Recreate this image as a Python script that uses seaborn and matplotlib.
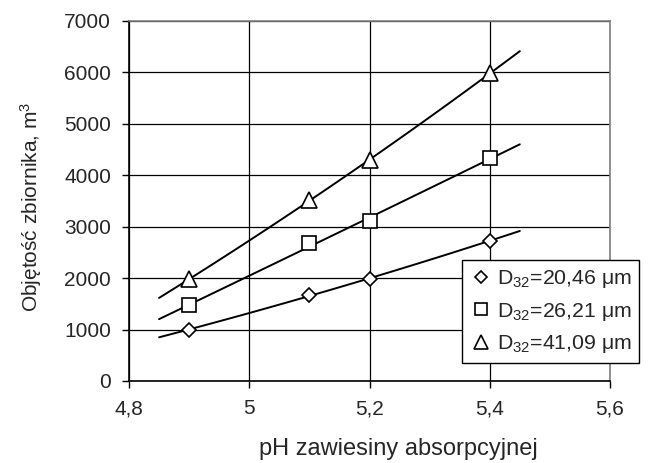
import numpy as np
import pandas as pd
import matplotlib
matplotlib.use("Agg")
import matplotlib.pyplot as plt
import seaborn as sns
from matplotlib.lines import Line2D

sns.set_theme(style="white")
plt.rcParams['font.family'] = ['Liberation Sans', 'DejaVu Sans']
plt.rcParams['mathtext.fontset'] = 'custom'
plt.rcParams['mathtext.rm'] = 'Liberation Sans'
plt.rcParams['mathtext.it'] = 'Liberation Sans'

ph = [4.9, 5.1, 5.2, 5.4]
v_2046 = [1000, 1670, 1980, 2730]
v_2621 = [1470, 2680, 3110, 4330]
v_4109 = [1980, 3510, 4300, 5980]
labels = ["D$_{32}$=20,46 μm", "D$_{32}$=26,21 μm", "D$_{32}$=41,09 μm"]
markers = ["D", "s", "^"]
msizes = [8, 10, 12]
xticks = [4.8, 5.0, 5.2, 5.4, 5.6]
xticklabels = ["4,8", "5", "5,2", "5,4", "5,6"]
yticks = [0, 1000, 2000, 3000, 4000, 5000, 6000, 7000]

fig = plt.figure(figsize=(6.62, 4.63), dpi=100)
ax = fig.add_axes([129/662, 1-381/463, (610-129)/662, (381-21)/463])

series = [v_2046, v_2621, v_4109]
xfit = np.linspace(4.85, 5.45, 100)
handles = []
for vals, mk, ms, lab in zip(series, markers, msizes, labels):
    # polynomial (2nd order) trendline
    coef = np.polyfit(ph, vals, 2)
    yfit = np.polyval(coef, xfit)
    sns.lineplot(x=xfit, y=yfit, ax=ax, color="black", lw=1.4, zorder=3)
    df = pd.DataFrame({"x": ph, "y": vals})
    msz = ms * 0.95 if mk == "D" else ms
    ax.plot(df.x, df.y, linestyle="none", marker=mk, markersize=msz,
            markerfacecolor="white", markeredgecolor="black", markeredgewidth=1.2, zorder=4)
    handles.append(Line2D([], [], linestyle="none", marker=mk, markersize=msz * 0.8,
                          markerfacecolor="white", markeredgecolor="black",
                          markeredgewidth=1.2, label=lab))

ax.set_xlim(4.8, 5.6)
ax.set_ylim(0, 7000)
ax.set_xticks(xticks)
ax.set_xticklabels(xticklabels)
ax.set_yticks(yticks)
ax.grid(True, color="black", lw=0.9)
ax.set_axisbelow(True)
for s in ["left", "bottom"]:
    ax.spines[s].set_color("black")
    ax.spines[s].set_linewidth(1.2)
for s in ["top", "right"]:
    ax.spines[s].set_color("#808080")
    ax.spines[s].set_linewidth(1.2)
ax.tick_params(axis="both", which="major", direction="out", length=5, width=1,
               color="black", labelsize=15, bottom=True, left=True, pad=8)
ax.set_xlabel("pH zawiesiny absorpcyjnej", fontsize=17)
ax.set_ylabel("Objętość zbiornika, m$^3$", fontsize=15)
ax.xaxis.set_label_coords((398-129)/(610-129), (381-449)/(381-21))
ax.yaxis.set_label_coords((31-129)/(610-129), (381-207)/(381-21))
ax.xaxis.label.set_va("center")
ax.yaxis.label.set_va("center")

leg = fig.legend(handles=handles, loc="upper left",
                 bbox_to_anchor=(462/662, 1-260/463), fontsize=15.3,
                 frameon=True, fancybox=False, edgecolor="black", framealpha=1,
                 handletextpad=0.25, borderpad=0.38, labelspacing=0.5,
                 handlelength=1.0, borderaxespad=0)
leg.get_frame().set_linewidth(1.0)

fig.savefig("out.png", dpi=100)
